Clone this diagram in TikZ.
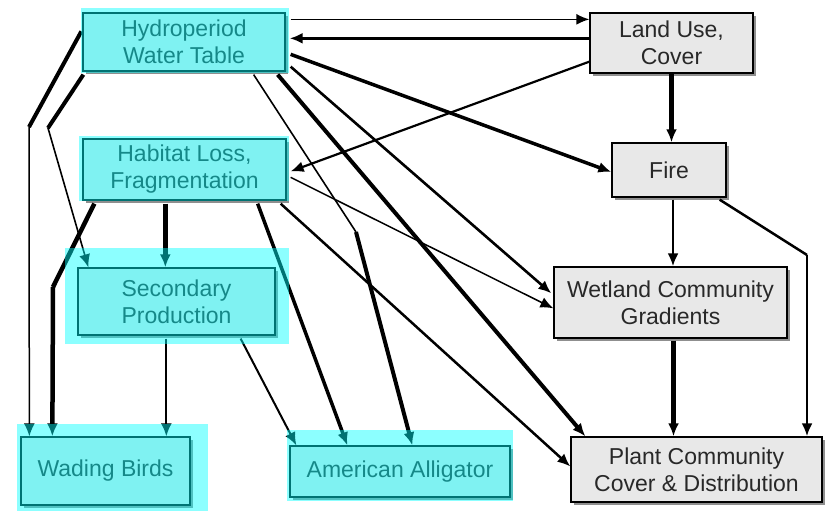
\documentclass[tikz,border=0pt]{standalone}
\usepackage{fontspec}
\setmainfont{Liberation Sans}
\usetikzlibrary{arrows.meta,calc,shadows}
\definecolor{boxgray}{RGB}{232,232,232}
\definecolor{textgray}{RGB}{40,40,40}
\definecolor{tint}{RGB}{0,255,255}
\begin{document}
\begin{tikzpicture}[x=1pt,y=-1pt,
  box/.style={draw=black, line width=1.3pt, fill=boxgray, align=center,
    inner sep=0pt, text=textgray, font=\fontsize{23}{27}\selectfont,
    drop shadow={shadow xshift=3pt, shadow yshift=-3pt, fill=black!55, opacity=0.8}},
  conn/.style={draw=black, line width=#1, -{Latex[length=13pt,width=11pt]}},
  conn/.default=2pt,
  wire/.style={draw=black, line width=#1},
  highlight/.style={fill=tint, fill opacity=0.45}]
\useasboundingbox (0,0) rectangle (825,511);

% boxes
\node[box, minimum width=202pt, minimum height=58pt] (hydro) at (184,42) {Hydroperiod\\Water Table};
\node[box, minimum width=203pt, minimum height=61pt] (habitat) at (184.5,169.5) {Habitat Loss,\\Fragmentation};
\node[box, minimum width=197pt, minimum height=67pt] (second) at (176.5,301.5) {Secondary\\Production};
\node[box, minimum width=169pt, minimum height=68pt] (wading) at (105.5,471) {Wading Birds};
\node[box, minimum width=220pt, minimum height=51pt] (gator) at (400,471.5) {American Alligator};
\node[box, minimum width=163pt, minimum height=60pt] (landuse) at (671.5,43) {Land Use,\\Cover};
\node[box, minimum width=114pt, minimum height=54pt] (fire) at (669,170) {Fire};
\node[box, minimum width=233pt, minimum height=71pt] (wetland) at (670.5,302.5) {Wetland Community\\Gradients};
\node[box, minimum width=251pt, minimum height=65pt] (plant) at (696.5,469.5) {Plant Community\\Cover \& Distribution};

% hydroperiod links
\draw[conn=1.5pt] ($(hydro.north east)+(5,7)$) -- ($(landuse.north west)+(0,7)$);
\draw[conn=3.5pt] ($(landuse.north west)+(0,26)$) -- ($(hydro.north east)+(4,26)$);
\draw[conn=3.5pt] ($(hydro.north east)+(5,42)$) -- ($(fire.west)+(0,2)$);
\draw[conn=2.6pt] ($(hydro.south east)+(5,-5)$) -- ($(wetland.north west)+(-2,27)$);
\draw[conn=4pt] ($(hydro.south east)+(-8,3)$) -- ($(plant.north west)+(15,0)$);
\coordinate (hgbend) at (356,232);
\draw[wire=1.6pt] ($(hydro.south east)+(-32,3)$) -- (hgbend);
\draw[conn=4pt] (hgbend) -- ($(gator.north west)+(123,0)$);
\coordinate (hwbend) at (29,127);
\draw[wire=4pt] ($(hydro.north west)+(-1,19)$) -- (hwbend);
\draw[conn=1.5pt] (hwbend) -- ($(wading.north west)+(9,0)$);
\coordinate (hsbend) at (48,128);
\draw[wire=4pt] ($(hydro.south west)+(1,3)$) -- (hsbend);
\draw[conn=1.6pt] (hsbend) -- ($(second.north west)+(11,0)$);

% land use links
\draw[conn=2.2pt] ($(landuse.south west)+(0,-12)$) -- ($(habitat.north east)+(4,33)$);
\draw[conn=4.5pt] (landuse.south) -- (landuse.south |- fire.north);

% habitat loss links
\draw[conn=1.5pt] ($(habitat.north east)+(4,39)$) -- ($(wetland.north west)+(0,42)$);
\draw[conn=2.5pt] ($(habitat.south east)+(-6,3)$) -- ($(plant.west)+(0,-3)$);
\draw[conn=3.5pt] ($(habitat.south east)+(-29,3)$) -- ($(gator.north west)+(58,0)$);
\coordinate (hsout) at ($(habitat.south west)+(83,3)$);
\draw[conn=4.5pt] (hsout) -- (hsout |- second.north);
\coordinate (hbbend) at (53,287);
\draw[wire=4.5pt] ($(habitat.south west)+(12,3)$) -- (hbbend);
\draw[conn=4.5pt] (hbbend) -- ($(wading.north west)+(32,0)$);

% secondary production links
\draw[conn=2pt] ($(second.south west)+(89,3)$) -- ($(wading.north west)+(146,0)$);
\draw[conn=2pt] ($(second.south east)+(-35,3)$) -- ($(gator.north west)+(7,0)$);

% fire and wetland links
\coordinate (fwout) at ($(fire.south)+(4,2)$);
\draw[conn=2.5pt] (fwout) -- (fwout |- wetland.north);
\coordinate (fpbend) at (807,255);
\draw[wire=2.5pt] ($(fire.south east)+(-7,2)$) -- (fpbend);
\draw[conn=2.5pt] (fpbend) -- (fpbend |- plant.north);
\coordinate (wpout) at ($(wetland.south)+(3,2)$);
\draw[conn=4.5pt] (wpout) -- (wpout |- plant.north);

% cyan highlight over the biotic boxes
\fill[highlight] ($(hydro.north west)+(-1,-4)$) rectangle ($(hydro.south east)+(3,1)$);
\fill[highlight] ($(habitat.north west)+(-3,-2)$) rectangle ($(habitat.south east)+(2,0)$);
\fill[highlight] ($(second.north west)+(-12,-19)$) rectangle ($(second.south east)+(13,8)$);
\fill[highlight] ($(wading.north west)+(-3,-12)$) rectangle ($(wading.south east)+(17,5)$);
\fill[highlight] ($(gator.north west)+(-2,-15)$) rectangle ($(gator.south east)+(2,3)$);
\end{tikzpicture}
\end{document}
